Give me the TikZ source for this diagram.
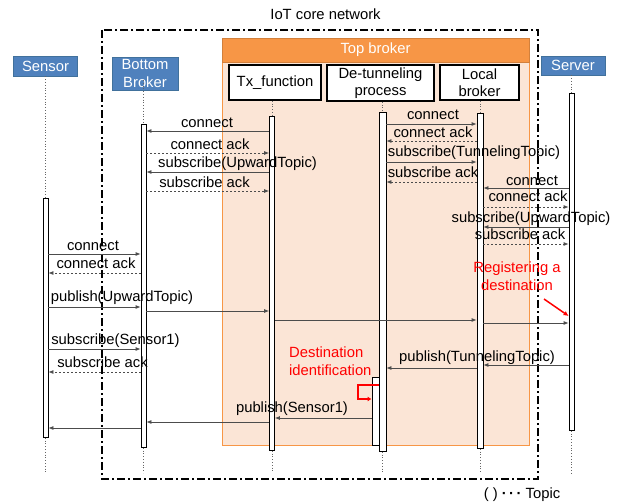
\documentclass[tikz,border=0pt]{standalone}
\usepackage{fontspec}
\setmainfont{Liberation Sans}
\usepackage{xcolor}
\usetikzlibrary{arrows.meta}
\definecolor{actorblue}{HTML}{4F81BD}
\definecolor{actorline}{HTML}{41719C}
\definecolor{brokerorange}{HTML}{F79646}
\definecolor{brokerpink}{HTML}{FBE5D6}
\tikzset{
  actor/.style={draw=actorline,line width=0.8pt,fill=actorblue,text=white,inner sep=0pt,align=center},
  unit/.style={draw=black,line width=1.5pt,fill=white,inner sep=0pt,align=center},
  actbar/.style={draw=black,line width=0.8pt,fill=white,inner sep=0pt,minimum width=5pt,anchor=north},
  lifeline/.style={draw=black!60,dotted,line width=0.8pt},
  msg/.style={draw=black!70,line width=0.8pt,-{Latex[length=5pt,width=4pt]}},
  reply/.style={msg,dash pattern=on 2pt off 2pt},
  lbl/.style={anchor=base,inner sep=0pt},
  note/.style={text=red,inner sep=0pt,align=center},
  corenet/.style={line width=2pt,dash pattern=on 8pt off 3pt on 2pt off 3pt}
}

\begin{document}
\begin{tikzpicture}[x=1pt,y=-1pt,font=\fontsize{14.8}{17.5}\selectfont]
    \useasboundingbox (0,0) rectangle (619,503);
    % network frame and top broker area
    \draw[corenet] (102,30) rectangle (538,479);
    \node[lbl] (corename) at (325.5,20) {IoT core network};
    \draw[draw=brokerorange,fill=brokerpink,line width=0.8pt] (222,38) rectangle (529,445);
    \node[draw=brokerorange!85!black,fill=brokerorange,text=white,inner sep=0pt,minimum width=307pt,minimum height=24pt] (top) at (375.5,50) {Top broker};
    % participants
    \node[actor,minimum width=64pt,minimum height=20pt] (sensor) at (45.5,66) {Sensor};
    \node[actor,minimum width=66pt,minimum height=33pt] (bb) at (145,73.5) {Bottom\\Broker};
    \node[actor,minimum width=64pt,minimum height=19pt] (server) at (573,65.5) {Server};
    \node[unit,minimum width=92pt,minimum height=35pt] (tx) at (275,82.5) {Tx\_function};
    \node[unit,minimum width=107pt,minimum height=36pt] (dt) at (380.5,83) {De-tunneling\\process};
    \node[unit,minimum width=79pt,minimum height=35pt] (lb) at (479.5,82.5) {Local\\broker};
    % activation bars
    \node[actbar,minimum height=239pt] (sensorbar) at (45.5,198) {};
    \node[actbar,minimum height=323pt] (bbbar) at (143.5,124) {};
    \node[actbar,minimum height=334pt] (txbar) at (272,116) {};
    \node[actbar,minimum height=339pt,minimum width=7pt] (dtbar) at (382.5,112) {};
    \node[actbar,minimum height=335pt,minimum width=6pt] (lbbar) at (480,113) {};
    \node[actbar,minimum height=337pt] (serverbar) at (571.5,93) {};
    \node[actbar,minimum height=68pt,minimum width=7pt] (dtsub) at (375.5,377) {};
    % lifelines
    \draw[lifeline] (sensorbar.north |- sensor.south) -- (sensorbar.north);
    \draw[lifeline] (bbbar.north |- 0,80) -- (bbbar.north);
    \draw[lifeline] (txbar.north |- tx.south) -- (txbar.north);
    \draw[lifeline] (dtbar.north |- dt.south) -- (dtbar.north);
    \draw[lifeline] (lbbar.north |- lb.south) -- (lbbar.north);
    \draw[lifeline] (serverbar.north |- server.south) -- (serverbar.north);
    \draw[lifeline] (sensorbar.south) -- (sensorbar.south |- 0,473);
    \draw[lifeline] (bbbar.south) -- (bbbar.south |- 0,473);
    \draw[lifeline] (txbar.south) -- (txbar.south |- 0,473);
    \draw[lifeline] (dtbar.south) -- (dtbar.south |- 0,473);
    \draw[lifeline] (lbbar.south) -- (lbbar.south |- 0,473);
    \draw[lifeline] (serverbar.south) -- (serverbar.south |- 0,473);
    % bottom broker <-> Tx_function
    \draw[msg] (txbar.west |- 0,131) -- (bbbar.east |- 0,131);
    \node[lbl] (l1) at (207,128) {connect};
    \draw[reply] (bbbar.east |- 0,153) -- (txbar.west |- 0,153);
    \node[lbl] (l2) at (210,149) {connect ack};
    \draw[msg] (txbar.west |- 0,172) -- (bbbar.east |- 0,172);
    \node[lbl] (l3) at (237.5,167) {subscribe(UpwardTopic)};
    \draw[reply] (bbbar.east |- 0,191) -- (txbar.west |- 0,191);
    \node[lbl] (l4) at (204.5,187) {subscribe ack};
    % de-tunneling <-> local broker
    \draw[msg] (dtbar.east |- 0,124) -- (lbbar.west |- 0,124);
    \node[lbl] (l5) at (433,120) {connect};
    \draw[reply] (lbbar.west |- 0,141) -- (dtbar.east |- 0,141);
    \node[lbl] (l6) at (433,137) {connect ack};
    \draw[msg] (dtbar.east |- 0,162) -- (lbbar.west |- 0,162);
    \node[lbl] (l7) at (474,157) {subscribe(TunnelingTopic)};
    \draw[reply] (lbbar.west |- 0,182) -- (dtbar.east |- 0,182);
    \node[lbl] (l8) at (433,177) {subscribe ack};
    % server <-> local broker
    \draw[msg] (serverbar.west |- 0,188) -- (lbbar.east |- 0,188);
    \node[lbl] (l9) at (532,185) {connect};
    \draw[reply] (lbbar.east |- 0,207) -- (serverbar.west |- 0,207);
    \node[lbl] (l10) at (528,201) {connect ack};
    \draw[msg] (serverbar.west |- 0,227) -- (lbbar.east |- 0,227);
    \node[lbl] (l11) at (531,222) {subscribe(UpwardTopic)};
    \draw[reply] (lbbar.east |- 0,244) -- (serverbar.west |- 0,244);
    \node[lbl] (l12) at (520,239) {subscribe ack};
    % sensor <-> bottom broker
    \draw[msg] (sensorbar.east |- 0,254) -- (bbbar.west |- 0,254);
    \node[lbl] (l13) at (93,250) {connect};
    \draw[reply] (bbbar.west |- 0,273) -- (sensorbar.east |- 0,273);
    \node[lbl] (l14) at (96,268) {connect ack};
    \draw[msg] (sensorbar.east |- 0,307) -- (bbbar.west |- 0,307);
    \node[lbl] (l15) at (122,301) {publish(UpwardTopic)};
    \draw[msg] (bbbar.east |- 0,311) -- (txbar.west |- 0,311);
    \draw[msg] (txbar.east |- 0,320) -- (lbbar.west |- 0,320);
    \draw[msg] (lbbar.east |- 0,323) -- (serverbar.west |- 0,323);
    \draw[msg] (sensorbar.east |- 0,349) -- (bbbar.west |- 0,349);
    \node[lbl] (l19) at (115.5,344) {subscribe(Sensor1)};
    \draw[reply] (bbbar.west |- 0,372) -- (sensorbar.east |- 0,372);
    \node[lbl] (l20) at (102.5,367) {subscribe ack};
    % tunneled publish back to the sensor
    \draw[msg] (serverbar.west |- 0,365) -- (lbbar.east |- 0,365);
    \draw[msg] (lbbar.west |- 0,368) -- (dtbar.east |- 0,368);
    \node[lbl] (l21) at (477,361) {publish(TunnelingTopic)};
    \draw[msg] (dtsub.west |- 0,418) -- (txbar.east |- 0,418);
    \node[lbl] (l22) at (292,412) {publish(Sensor1)};
    \draw[msg] (txbar.west |- 0,422) -- (bbbar.east |- 0,422);
    \draw[msg] (bbbar.west |- 0,428) -- (sensorbar.east |- 0,428);
    % red notes
    \node[note,anchor=north] (regnote) at (517,262) {Registering a\\destination};
    \coordinate (regtail) at (544,299);
    \draw[red,line width=1.5pt,-{Latex[length=5pt,width=5pt]}] (regtail) -- (serverbar.west |- 0,316);
    \node[note,align=left,anchor=north west] (idnote) at (289,347) {Destination\\identification};
    \coordinate (idturn) at (358,399);
    \draw[red,line width=2.5pt,-{Latex[length=4pt,width=5pt]}] (dtbar.west |- 0,385) -| (idturn) -- (dtsub.west |- idturn);
    % legend
    \node[lbl] (legend) at (522,498) {( ) {\bfseries ·\,·\,·} Topic};
\end{tikzpicture}
\end{document}
